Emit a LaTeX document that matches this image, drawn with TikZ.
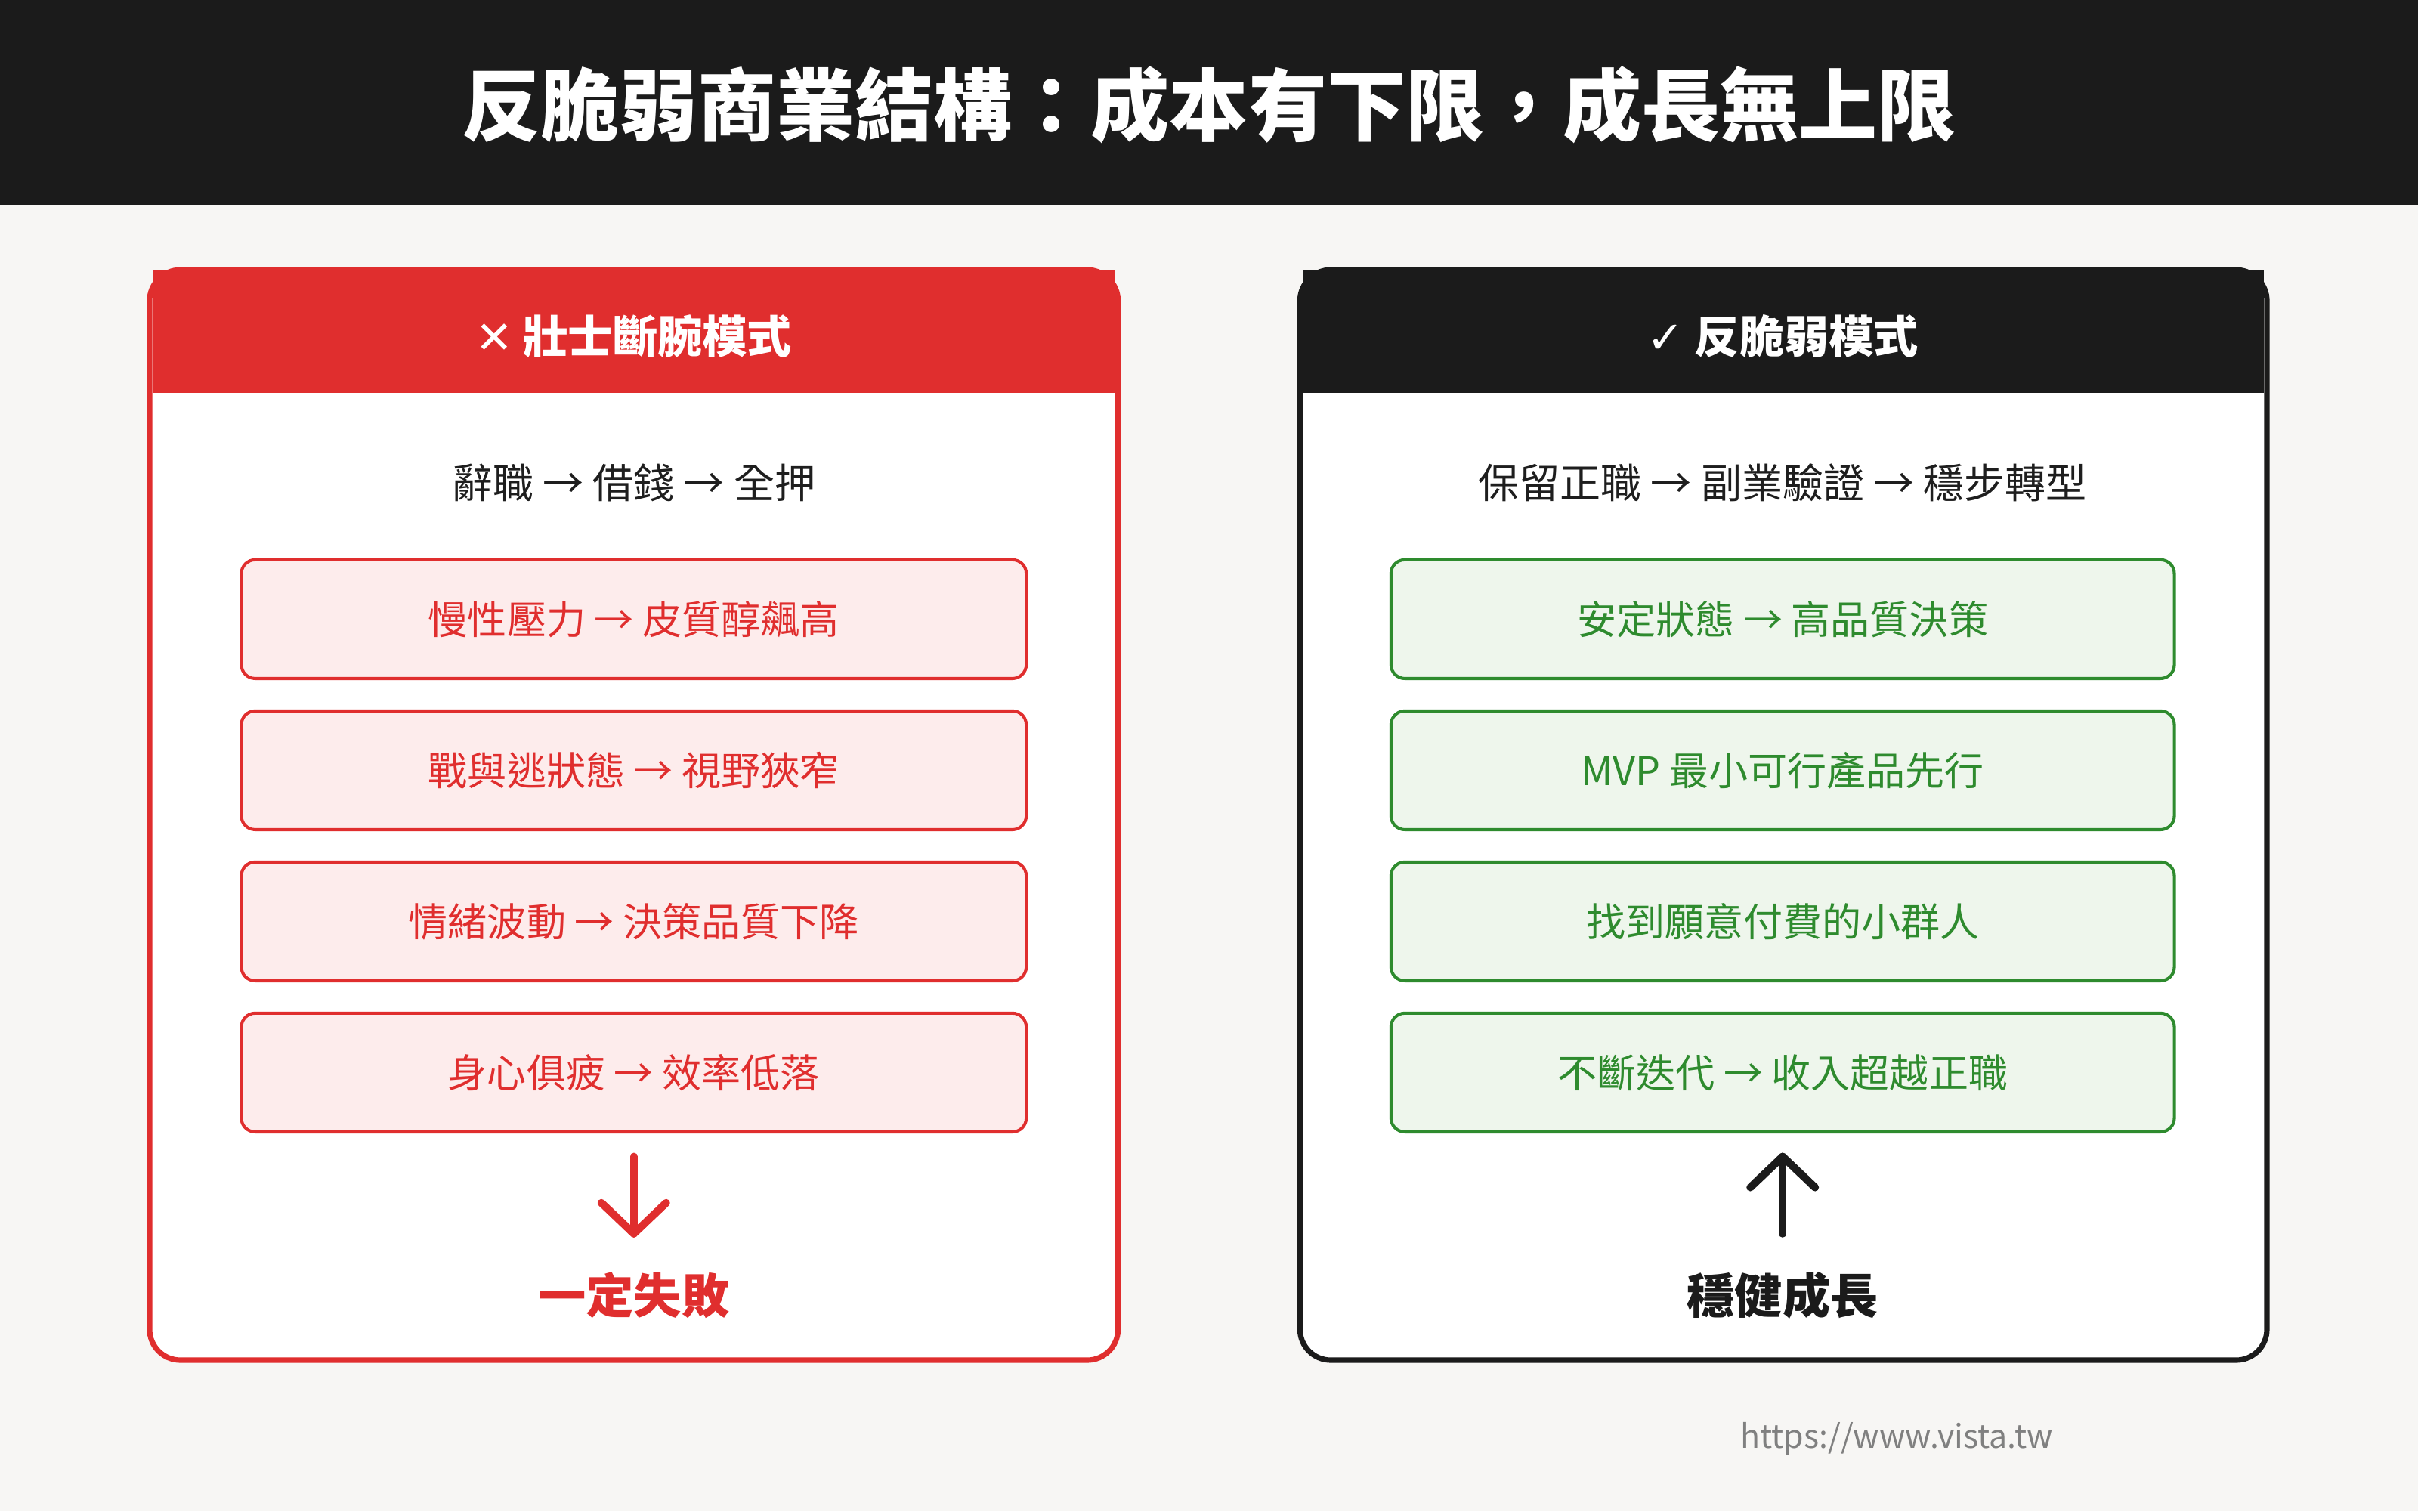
\documentclass[tikz,border=0pt]{standalone}
\usepackage{fontspec}
\setmainfont{Noto Sans CJK TC}
\newfontfamily\sym{DejaVu Sans}
\begin{document}
\begin{tikzpicture}[x=1pt,y=-1pt,
  ttl/.style={font=\fontsize{51}{58}\selectfont\bfseries,text=white},
  hdr/.style={font=\fontsize{29}{33}\selectfont\bfseries,text=white},
  flow/.style={font=\fontsize{26.5}{31}\selectfont,text=txt},
  rbox/.style={draw=cred,line width=2pt,fill=pinkbg,rounded corners=9pt,minimum width=509pt,minimum height=77pt,text=cred,font=\fontsize{25.5}{29}\selectfont},
  gbox/.style={draw=cgreen,line width=2pt,fill=greenbg,rounded corners=9pt,minimum width=508pt,minimum height=77pt,text=cgreen,font=\fontsize{25.5}{29}\selectfont},
  res/.style={font=\fontsize{31}{36}\selectfont\bfseries},
  arr/.style={line width=5pt,line cap=round,line join=round}]
\definecolor{cred}{HTML}{E02E2E}
\definecolor{pinkbg}{HTML}{FDECEC}
\definecolor{cgreen}{HTML}{2E8B2E}
\definecolor{greenbg}{HTML}{EEF6EC}
\definecolor{txt}{HTML}{1E1E1E}
\definecolor{dark}{HTML}{1B1B1B}
\definecolor{bg}{HTML}{F7F6F4}
\useasboundingbox (0,0) rectangle (1568,980);
\fill[bg] (0,0) rectangle (1568,980);
\fill[dark] (0,0) rectangle (1568,133);
\node[ttl] (title) at (784,68) {反脆弱商業結構：成本有下限，成長無上限};
% left card
\draw[cred,fill=white,line width=3.5pt,rounded corners=20pt] (97,175) rectangle (725,882);
\fill[cred] (99,175) rectangle (723,255);
\node[hdr] (lh) at (411,218) {{\sym\bfseries ✕} 壯士斷腕模式};
\node[flow] (lf) at (411,313) {辭職 → 借錢 → 全押};
\node[rbox] (l1) at (411,401.5) {慢性壓力 → 皮質醇飆高};
\node[rbox] (l2) at (411,499.5) {戰與逃狀態 → 視野狹窄};
\node[rbox] (l3) at (411,597.5) {情緒波動 → 決策品質下降};
\node[rbox] (l4) at (411,695.5) {身心俱疲 → 效率低落};
\coordinate (la) at (411,750);
\coordinate (lb) at (411,800);
\draw[arr,cred] (la) -- (lb);
\draw[arr,cred] (390,780) -- (lb) -- (432,780);
\node[res,text=cred] (lr) at (411,840) {一定失敗};
% right card
\draw[dark,fill=white,line width=3.5pt,rounded corners=20pt] (843,175) rectangle (1470,882);
\fill[dark] (845,175) rectangle (1468,255);
\node[hdr] (rh) at (1156,218) {{\sym\bfseries ✓} 反脆弱模式};
\node[flow] (rf) at (1156,313) {保留正職 → 副業驗證 → 穩步轉型};
\node[gbox] (r1) at (1156,401.5) {安定狀態 → 高品質決策};
\node[gbox] (r2) at (1156,499.5) {MVP 最小可行產品先行};
\node[gbox] (r3) at (1156,597.5) {找到願意付費的小群人};
\node[gbox] (r4) at (1156,695.5) {不斷迭代 → 收入超越正職};
\coordinate (ra) at (1156,800);
\coordinate (rb) at (1156,750);
\draw[arr,dark] (ra) -- (rb);
\draw[arr,dark] (1135,770) -- (rb) -- (1177,770);
\node[res,text=dark] (rr) at (1156,840) {穩健成長};
\node[font=\fontsize{21}{25}\selectfont,text=gray] (url) at (1230,933) {https://www.vista.tw};
\end{tikzpicture}
\end{document}
